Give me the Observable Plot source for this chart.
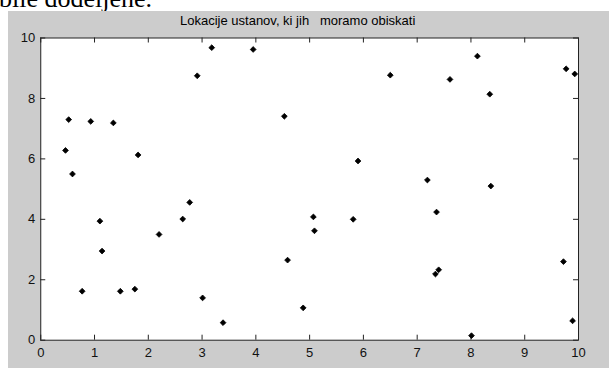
<!DOCTYPE html>
<html>
<head>
<meta charset="utf-8">
<script src="https://cdn.jsdelivr.net/npm/d3@7"></script>
<script src="https://cdn.jsdelivr.net/npm/@observablehq/plot@0.6"></script>
<style>
  html, body { margin: 0; padding: 0; background: #ffffff; }
  #page { position: relative; width: 609px; height: 368px; overflow: hidden; background: #ffffff; }
  #doctext { position: absolute; left: -1px; top: -14px; font-family: "Liberation Serif", "Times New Roman", serif; font-size: 26px; line-height: 26px; color: #000; white-space: pre; z-index: 0; }
  #panel { position: absolute; left: 8px; top: 11px; right: 0; bottom: 0; background: #cccccc; z-index: 1; }
  #title { position: absolute; left: 180px; top: 14px; font-family: "Liberation Sans", Arial, sans-serif; font-size: 13px; line-height: 13px; color: #000; white-space: pre; z-index: 3; }
  #chart { position: absolute; left: 0; top: 0; z-index: 2; }
</style>
</head>
<body>
<div id="page">
  <div id="doctext">bile dodeljene.</div>
  <div id="panel"></div>
  <div id="chart"></div>
  <div id="title">Lokacije ustanov, ki jih   moramo obiskati</div>
</div>
<script>
// Data
const xValues = [0.46, 0.52, 0.59, 0.93, 1.35, 1.81, 2.91, 3.18, 3.95, 4.53,
                 0.77, 1.10, 1.14, 1.48, 1.75, 2.20, 2.64, 2.77, 3.01, 3.39,
                 4.59, 4.88, 5.07, 5.09, 5.81, 7.36, 7.40, 7.34, 9.72, 9.89,
                 8.01, 8.12, 6.50, 7.61, 8.35, 9.77, 9.93, 5.90, 7.19, 8.37];
const yValues = [6.28, 7.30, 5.50, 7.24, 7.19, 6.13, 8.75, 9.68, 9.62, 7.41,
                 1.62, 3.94, 2.95, 1.62, 1.69, 3.50, 4.01, 4.56, 1.40, 0.58,
                 2.65, 1.07, 4.08, 3.62, 4.00, 4.24, 2.33, 2.19, 2.60, 0.64,
                 0.15, 9.40, 8.77, 8.63, 8.14, 8.98, 8.81, 5.93, 5.30, 5.10];
const xTicks = [0, 1, 2, 3, 4, 5, 6, 7, 8, 9, 10];
const yTicks = [0, 2, 4, 6, 8, 10];

const points = xValues.map((x, i) => ({x, y: yValues[i]}));

const W = 609, H = 368;
const mL = 40.25, mR = 31, mT = 37.5, mB = 28.3;
const plotW = W - mL - mR, plotH = H - mT - mB;
const tickLen = 5;
const axisColor = "#222";

const chart = Plot.plot({
  width: W,
  height: H,
  marginLeft: mL,
  marginRight: mR,
  marginTop: mT,
  marginBottom: mB,
  style: {background: "transparent", fontFamily: "'Liberation Sans', Arial, sans-serif", fontSize: "13px", color: "#000"},
  x: {domain: [0, 10], label: null},
  y: {domain: [0, 10], label: null},
  marks: [
    Plot.frame({fill: "white", stroke: axisColor}),
    // inward ticks on all four sides
    Plot.tickX(xTicks, {x: d => d, insetTop: plotH - tickLen, stroke: axisColor}),
    Plot.tickX(xTicks, {x: d => d, insetBottom: plotH - tickLen, stroke: axisColor}),
    Plot.tickY(yTicks, {y: d => d, insetRight: plotW - tickLen, stroke: axisColor}),
    Plot.tickY(yTicks, {y: d => d, insetLeft: plotW - tickLen, stroke: axisColor}),
    Plot.axisX(xTicks, {tickSize: 0, tickPadding: 8, fontSize: 13, fill: "#111", label: null}),
    Plot.axisY(yTicks, {tickSize: 0, tickPadding: 5.5, fontSize: 13, fill: "#111", label: null}),
    Plot.dot(points, {x: "x", y: "y", symbol: "diamond2", r: 2.6, fill: "black", stroke: "black", strokeWidth: 0.8})
  ]
});
document.getElementById("chart").appendChild(chart);
</script>
</body>
</html>
